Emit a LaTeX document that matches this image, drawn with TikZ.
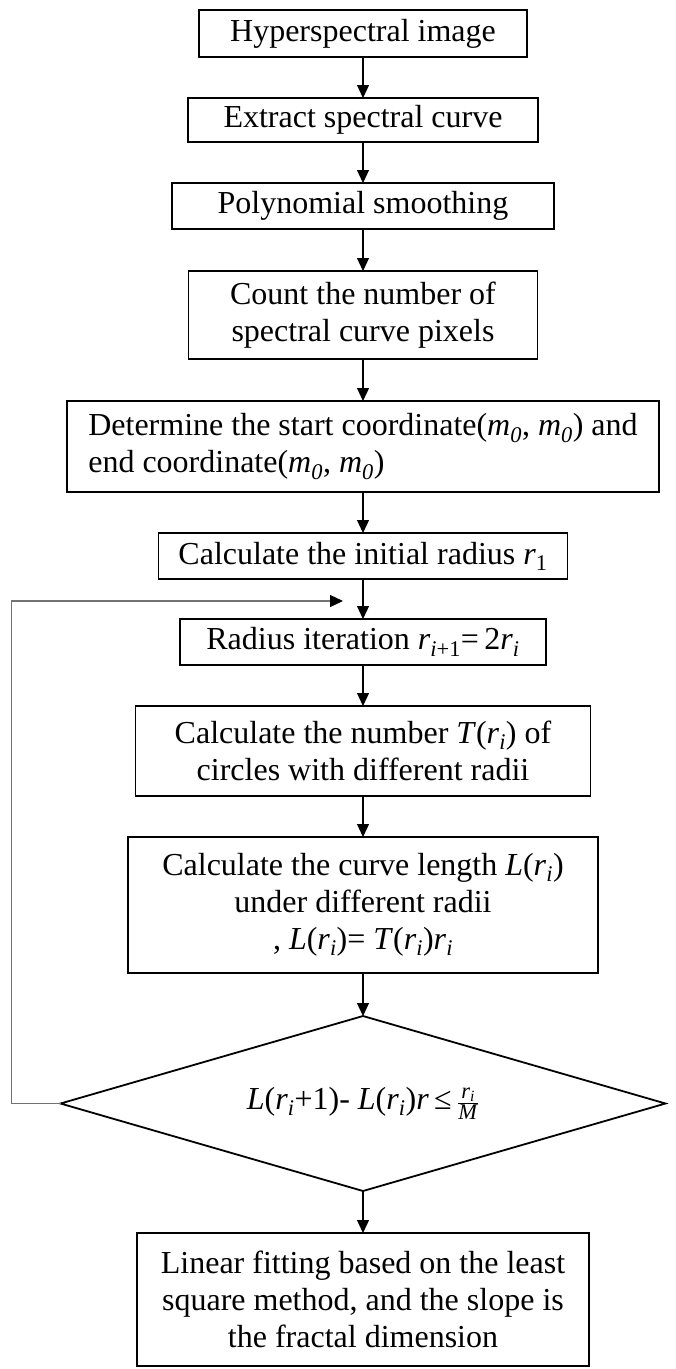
\documentclass[tikz,border=0pt]{standalone}
\usepackage{amsmath}
\usepackage{fontspec}
\setmainfont{Liberation Serif}
\usepackage{tikz}
\usetikzlibrary{arrows.meta, shapes.geometric}
\newcommand{\rsub}[1]{\textit{r}\textsubscript{#1}}
\newcommand{\mzero}{\textit{m}\textsubscript{\textit{0}}}

\begin{document}
\begin{tikzpicture}[x=1pt, y=-1pt,
  stepbox/.style={draw, line width=1.8pt, inner sep=0pt, outer sep=0pt, align=center,
    font={\fontsize{32}{37}\selectfont}},
  decide/.style={draw, diamond, aspect=3.46, line width=1.8pt, inner sep=0pt, outer sep=0pt,
    font={\fontsize{32}{37}\selectfont}},
  link/.style={-{Triangle[length=13pt, width=12pt, color=black]}, line width=1.2pt},
]
  \useasboundingbox (0,0) rectangle (676,1369);

  \node[stepbox, minimum width=328pt, minimum height=47pt] (img) at (363,33.5) {Hyperspectral image};
  \node[stepbox, minimum width=350pt, minimum height=44pt] (ext) at (363,120) {Extract spectral curve};
  \node[stepbox, minimum width=382pt, minimum height=46pt] (poly) at (363,206) {Polynomial smoothing};
  \node[stepbox, minimum width=349pt, minimum height=88pt] (cnt) at (363,315)
    {Count the number of\\spectral curve pixels};
  \node[stepbox, align=left, minimum width=592pt, minimum height=91pt] (ends) at (363,446.5)
    {Determine the start coordinate(\mzero, \mzero) and\\end coordinate(\mzero, \mzero)};
  \node[stepbox, minimum width=409pt, minimum height=46pt] (init) at (363,556)
    {Calculate the initial radius \rsub{1}};
  \node[stepbox, minimum width=366pt, minimum height=46pt] (iter) at (363,642)
    {Radius iteration \rsub{\textit{i}+1}=\,2\rsub{\textit{i}}};
  \node[stepbox, minimum width=455pt, minimum height=90pt] (num) at (363,751)
    {Calculate the number \textit{T}(\rsub{\textit{i}}) of\\circles with different radii};
  \node[stepbox, minimum width=470pt, minimum height=136pt] (len) at (363,905)
    {Calculate the curve length \textit{L}(\rsub{\textit{i}})\\under different radii\\
     , \textit{L}(\rsub{\textit{i}})= \textit{T}(\rsub{\textit{i}})\rsub{\textit{i}}};
  \node[decide, minimum width=605pt, minimum height=175pt] (test) at (363,1103.5)
    {\textit{L}(\rsub{\textit{i}}+1)- \textit{L}(\rsub{\textit{i}})\textit{r}\,≤\,$\frac{\text{\rsub{\textit{i}}}}{\text{\textit{M}}}$};
  \node[stepbox, minimum width=452pt, minimum height=133pt] (fit) at (363,1299.5)
    {Linear fitting based on the least\\square method, and the slope is\\the fractal dimension};

  \coordinate (back) at (343,601);

  \draw[link] (img) -- (ext);
  \draw[link] (ext) -- (poly);
  \draw[link] (poly) -- (cnt);
  \draw[link] (cnt) -- (ends);
  \draw[link] (ends) -- (init);
  \draw[link] (init) -- (iter);
  \draw[link] (iter) -- (num);
  \draw[link] (num) -- (len);
  \draw[link] (len.south) -- (test.north);
  \draw[link] (test.south) -- (fit.north);

  % loop back when the length still changes
  \draw[link, draw=black!55] (test.west) -- ++(-49,0) |- (back);
\end{tikzpicture}
\end{document}
